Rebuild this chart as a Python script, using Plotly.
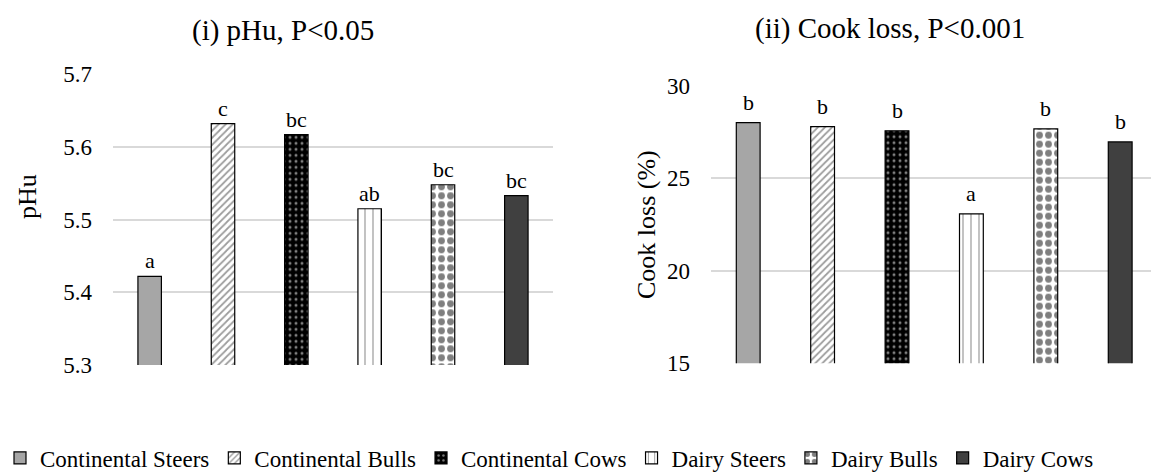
import plotly.graph_objects as go

# Groups and measured means
groups = ["Continental Steers", "Continental Bulls", "Continental Cows",
          "Dairy Steers", "Dairy Bulls", "Dairy Cows"]
ph_values = [5.422, 5.632, 5.617, 5.515, 5.548, 5.533]
ph_letters = ["a", "c", "bc", "ab", "bc", "bc"]
cook_values = [28.0, 27.79, 27.56, 23.07, 27.67, 26.96]
cook_letters = ["b", "b", "b", "a", "b", "b"]

ph_ticks = [5.3, 5.4, 5.5, 5.6, 5.7]
cook_ticks = [15, 20, 25, 30]

FONT = "Liberation Serif, Times New Roman, serif"
W, H = 1151, 473

# Fill style for each group (solid or patterned)
styles = [
    dict(color="#a6a6a6"),
    dict(color="white", pattern=dict(shape="/", fgcolor="#3a3a3a", bgcolor="white",
                                     size=5, solidity=0.35)),
    dict(color="black", pattern=dict(shape=".", fgcolor="white", bgcolor="black",
                                     size=6, solidity=0.2)),
    dict(color="white", pattern=dict(shape="|", fgcolor="#333333", bgcolor="white",
                                     size=8, solidity=0.15)),
    dict(color="white", pattern=dict(shape=".", fgcolor="black", bgcolor="white",
                                     size=9, solidity=0.45)),
    dict(color="#404040"),
]

fig = go.Figure()
for i, g in enumerate(groups):
    m = dict(styles[i])
    m["line"] = dict(color="black", width=1.2)
    fig.add_trace(go.Bar(x=[i], y=[ph_values[i]], name=g, marker=m,
                         width=0.32, xaxis="x", yaxis="y", showlegend=True,
                         legendgroup=g))
    fig.add_trace(go.Bar(x=[i], y=[cook_values[i]], name=g, marker=m,
                         width=0.32, xaxis="x2", yaxis="y2", showlegend=False,
                         legendgroup=g))

# Significance letters above the bars
for i in range(len(groups)):
    fig.add_annotation(x=i, y=ph_values[i], xref="x", yref="y", text=ph_letters[i],
                       showarrow=False, xanchor="center", yanchor="bottom", yshift=1,
                       font=dict(family=FONT, size=22, color="black"))
    fig.add_annotation(x=i, y=cook_values[i], xref="x2", yref="y2", text=cook_letters[i],
                       showarrow=False, xanchor="center", yanchor="bottom", yshift=6,
                       font=dict(family=FONT, size=22, color="black"))

def px_x(p):
    return p / W

def px_y(p):
    return 1 - p / H

def value_axis(**kw):
    return dict(showgrid=True, gridcolor="#d9d9d9", gridwidth=1.5, zeroline=False,
                showline=False, ticks="", ticklabelstandoff=20, automargin=False,
                tickfont=dict(family=FONT, size=23, color="black"), **kw)

fig.update_layout(
    width=W, height=H,
    margin=dict(l=0, r=0, t=0, b=0, autoexpand=False),
    paper_bgcolor="white", plot_bgcolor="white",
    font=dict(family=FONT, color="black"),
    barmode="overlay",
    xaxis=dict(domain=[px_x(113), px_x(553)], range=[-0.5, 5.5], automargin=False,
               showticklabels=False, showgrid=False, zeroline=False, fixedrange=True),
    yaxis=value_axis(domain=[px_y(365), px_y(74.3)], range=[5.3, 5.7],
                     tickvals=ph_ticks, tickformat=".1f"),
    xaxis2=dict(domain=[px_x(711), 1.0], range=[-0.5, 5.414], automargin=False,
                showticklabels=False, showgrid=False, zeroline=False, fixedrange=True,
                anchor="y2"),
    yaxis2=value_axis(domain=[px_y(363.3), px_y(85.7)], range=[15, 30],
                      tickvals=cook_ticks, anchor="x2"),
    legend=dict(orientation="h", x=0.0, xanchor="left", y=px_y(458), yanchor="middle",
                font=dict(family=FONT, size=23, color="black"),
                itemwidth=30, tracegroupgap=0, traceorder="normal"),
)

# Panel titles and axis titles
fig.add_annotation(x=px_x(283), y=px_y(30), xref="paper", yref="paper",
                   xanchor="center", yanchor="middle",
                   text="(i) pHu, P<0.05", showarrow=False,
                   font=dict(family=FONT, size=29, color="black"))
fig.add_annotation(x=px_x(890), y=px_y(28), xref="paper", yref="paper",
                   xanchor="center", yanchor="middle",
                   text="(ii) Cook loss, P<0.001", showarrow=False,
                   font=dict(family=FONT, size=29, color="black"))
fig.add_annotation(x=px_x(27), y=px_y(197), xref="paper", yref="paper",
                   xanchor="center", yanchor="middle",
                   text="pHu", textangle=-90, showarrow=False,
                   font=dict(family=FONT, size=26, color="black"))
fig.add_annotation(x=px_x(646), y=px_y(225), xref="paper", yref="paper",
                   xanchor="center", yanchor="middle",
                   text="Cook loss (%)", textangle=-90, showarrow=False,
                   font=dict(family=FONT, size=26, color="black"))

fig.write_html("out.html")
